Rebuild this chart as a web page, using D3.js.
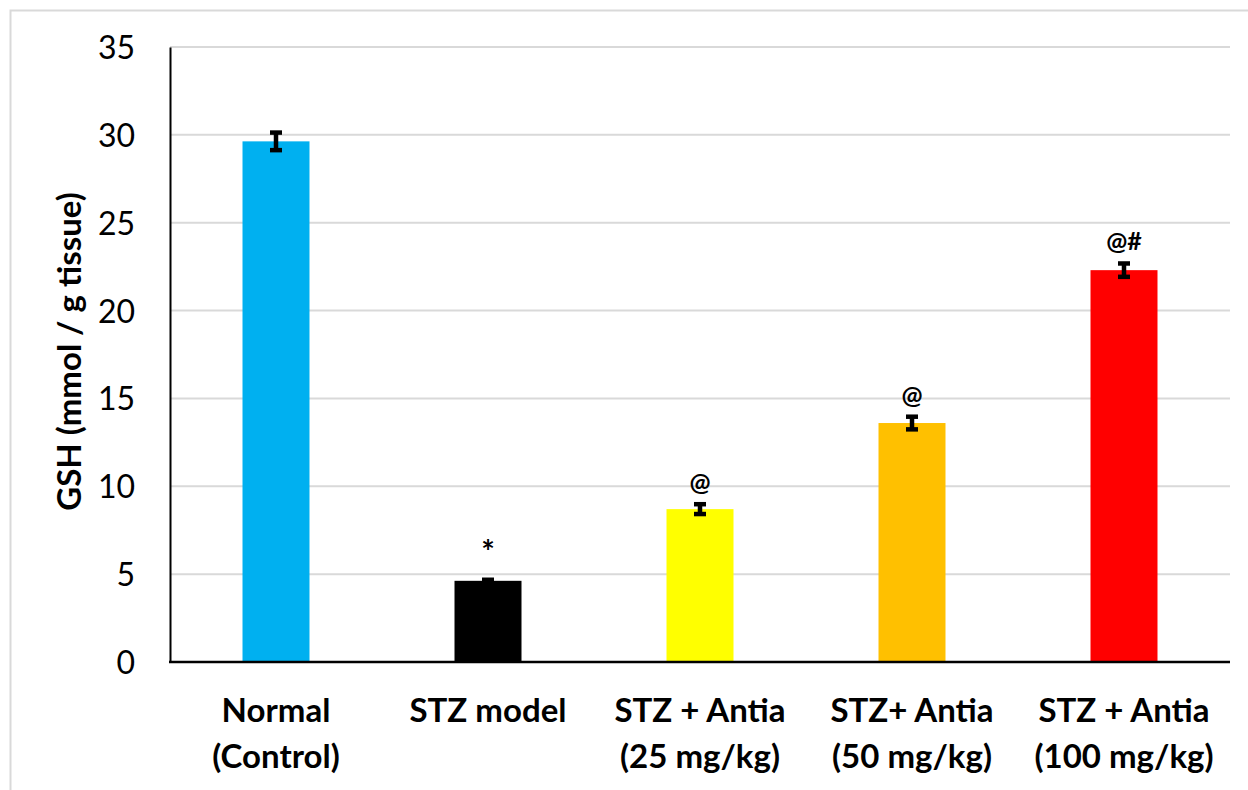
<!DOCTYPE html>
<html>
<head>
<meta charset="utf-8">
<script src="https://cdn.jsdelivr.net/npm/d3@7"></script>
<style>
  body { margin: 0; background: #fff; }
  svg { display: block; font-family: Lato, "Open Sans", sans-serif; }
  .tick_lbl { font-size: 32px; fill: #000; }
  .cat_lbl { font-size: 33px; font-weight: bold; fill: #000; }
  .sig_lbl { font-size: 25px; font-weight: bold; fill: #000; }
  .y_title { font-size: 33px; font-weight: bold; fill: #000; }
</style>
</head>
<body>
<svg id="chart" width="1248" height="790"></svg>
<script>
// groups and GSH values
var groups = ["Normal|(Control)", "STZ model", "STZ + Antia|(25 mg/kg)", "STZ+ Antia|(50 mg/kg)", "STZ + Antia|(100 mg/kg)"]
var gsh = [29.63, 4.62, 8.7, 13.6, 22.3]
var gsh_err = [0.5, 0.06, 0.28, 0.36, 0.38]
var sig = ["", "*", "@", "@", "@#"]
var bar_colors = ["#00B0F0", "#000000", "#FFFF00", "#FFC000", "#FF0000"]
var y_ticks = [0, 5, 10, 15, 20, 25, 30, 35]

var svg = d3.select("#chart")
var plot = { left: 170, right: 1230, top: 47, bottom: 662 }

// outer chart frame (runs off the canvas on the right and bottom)
svg.append("rect")
  .attr("x", 10.5).attr("y", 10.5)
  .attr("width", 1400).attr("height", 900)
  .attr("fill", "none").attr("stroke", "#d9d9d9").attr("stroke-width", 2)

var x = d3.scaleBand()
  .domain(groups)
  .range([plot.left, plot.right])
  .paddingInner(0.684).paddingOuter(0.342)
var y = d3.scaleLinear().domain([0, 35]).range([plot.bottom, plot.top])

// gridlines
svg.append("g")
  .selectAll("line")
  .data(y_ticks.filter(d => d > 0))
  .join("line")
  .attr("x1", plot.left).attr("x2", plot.right)
  .attr("y1", d => y(d)).attr("y2", d => y(d))
  .attr("stroke", "#d9d9d9").attr("stroke-width", 2)

// y axis
var yAxis = svg.append("g")
  .attr("transform", "translate(" + plot.left + ",0)")
  .call(d3.axisLeft(y).tickValues(y_ticks).tickSize(0).tickPadding(35))
yAxis.attr("font-size", null).attr("font-family", null)
yAxis.select(".domain").attr("stroke", "#000").attr("stroke-width", 2)
yAxis.selectAll("text")
  .attr("class", "tick_lbl")
  .attr("dy", "0.36em")

// bars
svg.append("g")
  .selectAll("rect")
  .data(groups)
  .join("rect")
  .attr("x", d => x(d))
  .attr("width", x.bandwidth())
  .attr("y", (d, i) => y(gsh[i]))
  .attr("height", (d, i) => y(0) - y(gsh[i]))
  .attr("fill", (d, i) => bar_colors[i])

// x baseline
svg.append("line")
  .attr("x1", plot.left - 1).attr("x2", plot.right)
  .attr("y1", y(0)).attr("y2", y(0))
  .attr("stroke", "#000").attr("stroke-width", 2.5)

// error bars
var cap = 6
var eb = svg.append("g")
  .selectAll("g")
  .data(groups)
  .join("g")
  .attr("stroke", "#000").attr("stroke-width", 4.5)
eb.append("line")
  .attr("x1", d => x(d) + x.bandwidth() / 2).attr("x2", d => x(d) + x.bandwidth() / 2)
  .attr("y1", (d, i) => y(gsh[i] + gsh_err[i])).attr("y2", (d, i) => y(gsh[i] - gsh_err[i]))
eb.append("line")
  .attr("x1", d => x(d) + x.bandwidth() / 2 - cap).attr("x2", d => x(d) + x.bandwidth() / 2 + cap)
  .attr("y1", (d, i) => y(gsh[i] + gsh_err[i])).attr("y2", (d, i) => y(gsh[i] + gsh_err[i]))
eb.append("line")
  .attr("x1", d => x(d) + x.bandwidth() / 2 - cap).attr("x2", d => x(d) + x.bandwidth() / 2 + cap)
  .attr("y1", (d, i) => y(gsh[i] - gsh_err[i])).attr("y2", (d, i) => y(gsh[i] - gsh_err[i]))

// significance marks
svg.append("g")
  .selectAll("text")
  .data(groups)
  .join("text")
  .attr("class", "sig_lbl")
  .attr("text-anchor", "middle")
  .attr("x", d => x(d) + x.bandwidth() / 2)
  .attr("y", (d, i) => y(gsh[i] + gsh_err[i]) - (sig[i] == "*" ? 16 : 13))
  .style("font-size", (d, i) => sig[i] == "*" ? "32px" : null)
  .text((d, i) => sig[i])

// category labels, two lines each
var cats = svg.append("g")
  .selectAll("text")
  .data(groups)
  .join("text")
  .attr("class", "cat_lbl")
  .attr("text-anchor", "middle")
  .attr("x", d => x(d) + x.bandwidth() / 2)
  .attr("y", 722)
cats.selectAll("tspan")
  .data(d => d.split("|"))
  .join("tspan")
  .attr("x", function () { return this.parentNode.getAttribute("x") })
  .attr("dy", (d, j) => j ? 46 : 0)
  .text(d => d)

// y title
svg.append("text")
  .attr("class", "y_title")
  .attr("text-anchor", "middle")
  .attr("transform", "translate(81," + ((plot.top + plot.bottom) / 2 - 3) + ") rotate(-90)")
  .text("GSH (mmol / g tissue)")
</script>
</body>
</html>
